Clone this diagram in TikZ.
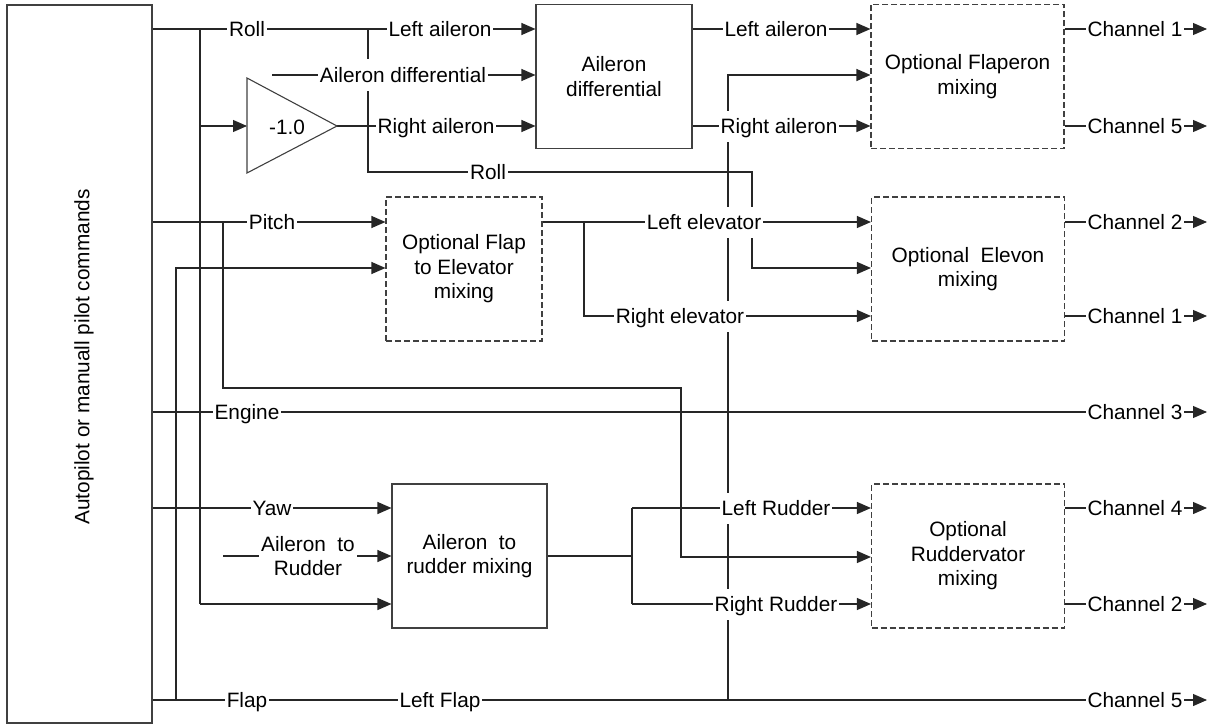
\documentclass[tikz,border=0pt]{standalone}
\usepackage{fontspec}
\setmainfont{Liberation Sans}
\usetikzlibrary{arrows.meta}
\pgfdeclarelayer{bg}
\pgfsetlayers{bg,main}
\begin{document}
\begin{tikzpicture}[x=1pt,y=-1pt,
  every node/.style={font=\fontsize{20.8}{24.5}\selectfont},
  conn/.style={draw=black!85,line width=1.1pt},
  arr/.style={conn,-{Triangle[length=14pt,width=12pt]}},
  solidbox/.style={draw=black!75,line width=1.1pt,minimum width=156pt,minimum height=144pt,align=center,inner sep=0pt},
  optbox/.style={solidbox,dash pattern=on 6pt off 3pt,minimum width=193pt},
  lbl/.style={fill=white,inner xsep=2pt,inner ysep=8pt,text height=15pt,text depth=0pt},
  lbltwo/.style={fill=white,inner xsep=2pt,inner ysep=5pt,align=center},
]
\useasboundingbox (0,0) rectangle (1220,725);

% source box
\node[draw=black!75,line width=1.1pt,minimum width=145pt,minimum height=718pt,inner sep=0pt] (src) at (79.5,364) {};
\node[rotate=90] (srctxt) at (84,357) {Autopilot or manuall pilot commands};

% blocks
\node[solidbox] (adbox) at (614,76.5) {Aileron\\differential};
\node[optbox] (flapbox) at (967.5,76.5) {Optional Flaperon\\mixing};
\node[optbox,minimum width=156pt] (febox) at (464,269) {Optional Flap\\to Elevator\\mixing};
\node[optbox] (elevbox) at (968,269) {Optional~ Elevon\\mixing};
\node[solidbox,minimum width=155pt] (arbox) at (469.5,556) {Aileron~ to\\rudder mixing};
\node[optbox] (rvbox) at (968,556) {Optional\\Ruddervator\\mixing};

% gain triangle
\coordinate (triin) at (247,126);
\coordinate (triout) at (337,126);
\draw[draw=black!75,line width=1.1pt] (247,78) -- (triout) -- (247,173) -- cycle;
\node (gain) at (287,127) {-1.0};

% coordinates
\coordinate (s1) at (152,29);
\coordinate (s2) at (152,222);
\coordinate (s3) at (152,412);
\coordinate (s4) at (152,508);
\coordinate (s5) at (152,700);
\coordinate (j1) at (200,29);
\coordinate (j1b) at (200,126);
\coordinate (j1c) at (200,604);
\coordinate (k1) at (368,29);
\coordinate (k2) at (368,172);
\coordinate (k3) at (752,172);
\coordinate (k4) at (752,268);
\coordinate (p1) at (223,222);
\coordinate (p2) at (223,388);
\coordinate (p3) at (681,388);
\coordinate (p4) at (681,557);
\coordinate (f1) at (176,700);
\coordinate (f2) at (176,268);
\coordinate (f3) at (728,700);
\coordinate (f4) at (728,75);
\coordinate (a0) at (223,556);
\coordinate (d0) at (272,75);
\coordinate (e0) at (584,222);
\coordinate (e1) at (584,316);
\coordinate (r0) at (632,556);
\coordinate (r1) at (632,508);
\coordinate (r2) at (632,604);
\coordinate (o1) at (1207,29);
\coordinate (o2) at (1207,126);
\coordinate (o3) at (1207,222);
\coordinate (o4) at (1207,316);
\coordinate (o5) at (1207,412);
\coordinate (o6) at (1207,508);
\coordinate (o7) at (1207,604);
\coordinate (o8) at (1207,700);

% labels
\node[lbl] (lRoll) at (247,29) {Roll};
\node[lbl] (lLA1) at (440,29) {Left aileron};
\node[lbl] (lAD) at (403,75) {Aileron differential};
\node[lbl] (lRA1) at (436,126) {Right aileron};
\node[lbl] (lRoll2) at (488,172) {Roll};
\node[lbl] (lLA2) at (776,29) {Left aileron};
\node[lbl] (lRA2) at (779,126) {Right aileron};
\node[lbl] (lPitch) at (272,222) {Pitch};
\node[lbl] (lLE) at (704,222) {Left elevator};
\node[lbl] (lRE) at (680,316) {Right elevator};
\node[lbl] (lEng) at (247,412) {Engine};
\node[lbl] (lYaw) at (272,508) {Yaw};
\node[lbltwo] (lAR) at (308,556) {Aileron~ to\\Rudder};
\node[lbl] (lLR) at (776,508) {Left Rudder};
\node[lbl] (lRR) at (776,604) {Right Rudder};
\node[lbl] (lFlap) at (247,700) {Flap};
\node[lbl] (lLF) at (440,700) {Left Flap};
\node[lbl] (c1) at (1135,29) {Channel 1};
\node[lbl] (c2) at (1135,126) {Channel 5};
\node[lbl] (c3) at (1135,222) {Channel 2};
\node[lbl] (c4) at (1135,316) {Channel 1};
\node[lbl] (c5) at (1135,412) {Channel 3};
\node[lbl] (c6) at (1135,508) {Channel 4};
\node[lbl] (c7) at (1135,604) {Channel 2};
\node[lbl] (c8) at (1135,700) {Channel 5};

\begin{pgfonlayer}{bg}
% roll
\draw[arr] (s1) -- (k1) -- (adbox.west |- s1);
\draw[conn] (j1) -- (j1c);
\draw[arr] (j1b) -- (triin);
\draw[arr] (j1c) -- (arbox.west |- j1c);
\draw[arr] (k1) -- (k2) -- (k3) -- (k4) -- (elevbox.west |- k4);
\draw[arr] (d0) -- (adbox.west |- d0);
\draw[arr] (triout) -- (adbox.west |- triout);
\draw[arr] (adbox.east |- s1) -- (flapbox.west |- s1);
\draw[arr] (adbox.east |- triout) -- (flapbox.west |- triout);
% flap
\draw[arr] (s5) -- (o8);
\draw[arr] (f3) -- (f4) -- (flapbox.west |- f4);
\draw[arr] (f1) -- (f2) -- (febox.west |- f2);
% pitch
\draw[arr] (s2) -- (febox.west |- s2);
\draw[arr] (p1) -- (p2) -- (p3) -- (p4) -- (rvbox.west |- p4);
\draw[arr] (febox.east |- s2) -- (elevbox.west |- s2);
\draw[arr] (e0) -- (e1) -- (elevbox.west |- e1);
% engine
\draw[arr] (s3) -- (o5);
% yaw
\draw[arr] (s4) -- (arbox.west |- s4);
\draw[arr] (a0) -- (arbox.west |- a0);
\draw[conn] (arbox.east |- a0) -- (r0);
\draw[conn] (r1) -- (r2);
\draw[arr] (r1) -- (rvbox.west |- r1);
\draw[arr] (r2) -- (rvbox.west |- r2);
% outputs
\draw[arr] (flapbox.east |- o1) -- (o1);
\draw[arr] (flapbox.east |- o2) -- (o2);
\draw[arr] (elevbox.east |- o3) -- (o3);
\draw[arr] (elevbox.east |- o4) -- (o4);
\draw[arr] (rvbox.east |- o6) -- (o6);
\draw[arr] (rvbox.east |- o7) -- (o7);
\end{pgfonlayer}
\end{tikzpicture}
\end{document}
